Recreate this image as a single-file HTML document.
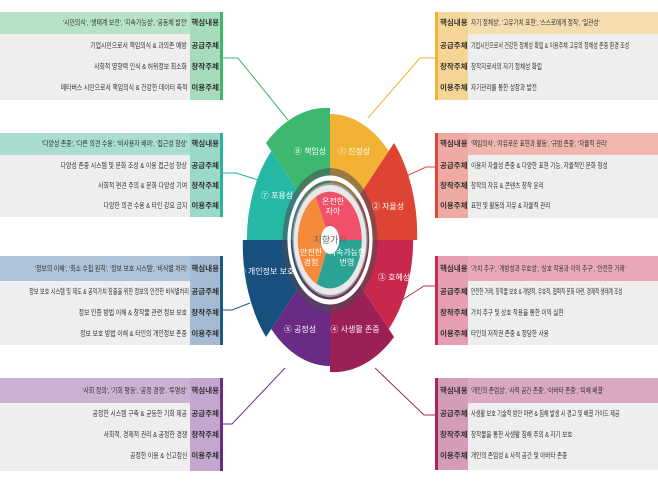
<!DOCTYPE html>
<html><head><meta charset="utf-8"><style>
body{margin:0;width:658px;height:482px;background:#fff;position:relative;overflow:hidden;font-family:"Liberation Sans","Noto Sans CJK KR",sans-serif}
.p{position:absolute;background:#eeeeee;font-size:7.5px;color:#333;overflow:hidden}
.p .h{position:absolute;left:0;right:0;top:0;height:22px}
.p .c{position:absolute;top:0;bottom:0;width:30px}
.p .b{position:absolute;top:0;bottom:0;width:3px}
.p span{position:absolute;white-space:nowrap;line-height:10px}
.L span{right:36px;transform:scaleX(0.78);transform-origin:right center}
.R span{left:36px;transform:scaleX(0.74);transform-origin:left center}
.L .k{right:4px;font-weight:bold;transform:none}
.R .k{left:5px;font-weight:bold;transform:none}
.L span.n{transform:scaleX(0.68)}
.L .c{right:3px}.L .b{right:0}
.R .c{left:3px}.R .b{left:0}
.t{position:absolute;color:#fff;font-size:8px;white-space:nowrap;transform:translate(-50%,-50%);text-align:center;line-height:10px}
</style></head><body>

<div class="p L" style="left:0;top:12px;width:223px;height:88px">
<div class="h" style="background:#b7e2c6"></div><div class="c" style="background:#a6dcbb"></div><div class="b" style="background:#3cb86a"></div>
<span style="top:6px">'시민의식', '생태계 보전', '지속가능성', '공동체 발전'</span><span class="k" style="top:6px">핵심내용</span>
<span style="top:29px">기업시민으로서 책임의식 &amp; 과의존 예방</span><span class="k" style="top:29px">공급주체</span>
<span style="top:50px">사회적 영향력 인식 &amp; 허위정보 최소화</span><span class="k" style="top:50px">창작주체</span>
<span style="top:71px">메타버스 시민으로서 책임의식 &amp; 건강한 데이터 축적</span><span class="k" style="top:71px">이용주체</span>
</div>
<div class="p L" style="left:0;top:133px;width:223px;height:84px">
<div class="h" style="background:#a8ddd0"></div><div class="c" style="background:#9cd8c8"></div><div class="b" style="background:#26b3a0"></div>
<span style="top:6px">'다양성 존중', '다른 의견 수용', '비사용자 배려', '접근성 향상'</span><span class="k" style="top:6px">핵심내용</span>
<span style="top:28px">다양성 존중 시스템 및 문화 조성 &amp; 이용 접근성 향상</span><span class="k" style="top:28px">공급주체</span>
<span style="top:48px">사회적 편견 주의 &amp; 문화 다양성 기여</span><span class="k" style="top:48px">창작주체</span>
<span style="top:68px">다양한 의견 수용 &amp; 타인 강요 금지</span><span class="k" style="top:68px">이용주체</span>
</div>
<div class="p L" style="left:0;top:256px;width:223px;height:89px">
<div class="h" style="background:#aec3d8;height:25px"></div><div class="c" style="background:#a5bbd3"></div><div class="b" style="background:#1d5a86"></div>
<span style="top:8px">'정보의 이해', '최소 수집 원칙', '정보 보호 시스템', '비식별 처리'</span><span class="k" style="top:8px">핵심내용</span>
<span class="n" style="top:31px;right:34px">정보 보호 시스템 및 제도 &amp; 공익가치 창출을 위한 정보의 안전한 비식별처리</span><span class="k" style="top:31px">공급주체</span>
<span style="top:52px">정보 인증 방법 이해 &amp; 창작물 관련 정보 보호</span><span class="k" style="top:52px">창작주체</span>
<span style="top:73px">정보 보호 방법 이해 &amp; 타인의 개인정보 존중</span><span class="k" style="top:73px">이용주체</span>
</div>
<div class="p L" style="left:0;top:378px;width:223px;height:93px">
<div class="h" style="background:#cbb2d4;height:25px"></div><div class="c" style="background:#c3a7cf"></div><div class="b" style="background:#6a2d86"></div>
<span style="top:8px">'사회 정의', '기회 평등', '공정 경쟁', '투명성'</span><span class="k" style="top:8px">핵심내용</span>
<span style="top:31px">공정한 시스템 구축 &amp; 균등한 기회 제공</span><span class="k" style="top:31px">공급주체</span>
<span style="top:52px">사회적, 경제적 권리 &amp; 공정한 경쟁</span><span class="k" style="top:52px">창작주체</span>
<span style="top:73px">공정한 이용 &amp; 신고정신</span><span class="k" style="top:73px">이용주체</span>
</div>

<div class="p R" style="left:435px;top:12px;width:223px;height:88px">
<div class="h" style="background:#f6ddb0"></div><div class="c" style="background:#f4d596"></div><div class="b" style="background:#f2b233"></div>
<span style="top:6px">자기 정체성', '고유가치 표현', '스스로에게 정직', '일관성'</span><span class="k" style="top:6px">핵심내용</span>
<span style="top:29px;transform:scaleX(0.66)">기업시민으로서 건강한 정체성 확립 &amp; 이용주체 고유의 정체성 존중 환경 조성</span><span class="k" style="top:29px">공급주체</span>
<span style="top:50px">창작자로서의 자기 정체성 확립</span><span class="k" style="top:50px">창작주체</span>
<span style="top:71px">자기관리를 통한 성장과 발전</span><span class="k" style="top:71px">이용주체</span>
</div>
<div class="p R" style="left:435px;top:133px;width:223px;height:85px">
<div class="h" style="background:#f1b6b0"></div><div class="c" style="background:#eeaaa3"></div><div class="b" style="background:#e0473b"></div>
<span style="top:6px">'책임의식', '자유로운 표현과 활동', '규범 존중', '자율적 관리'</span><span class="k" style="top:6px">핵심내용</span>
<span style="top:28px">이용자 자율성 존중 &amp; 다양한 표현 기능, 자율적인 문화 형성</span><span class="k" style="top:28px">공급주체</span>
<span style="top:48px">창작의 자유 &amp; 콘텐츠 창작 윤리</span><span class="k" style="top:48px">창작주체</span>
<span style="top:68px">표현 및 활동의 자유 &amp; 자율적 관리</span><span class="k" style="top:68px">이용주체</span>
</div>
<div class="p R" style="left:435px;top:256px;width:223px;height:89px">
<div class="h" style="background:#eaa9b8;height:25px"></div><div class="c" style="background:#e59fb0"></div><div class="b" style="background:#c62c52"></div>
<span style="top:8px">'가치 추구', '개방성과 우호성', '상호 작용과 이익 추구', '안전한 거래'</span><span class="k" style="top:8px">핵심내용</span>
<span style="top:31px;transform:scaleX(0.6)">안전한 거래, 창작물 보호 &amp; 개방적, 우호적, 협력적 문화 마련, 경제적 생태계 조성</span><span class="k" style="top:31px">공급주체</span>
<span style="top:52px">가치 추구 및 상호 작용을 통한 이익 실현</span><span class="k" style="top:52px">창작주체</span>
<span style="top:73px">타인의 저작권 존중 &amp; 정당한 사용</span><span class="k" style="top:73px">이용주체</span>
</div>
<div class="p R" style="left:435px;top:378px;width:223px;height:92px">
<div class="h" style="background:#dba8c2;height:25px"></div><div class="c" style="background:#d59cb9"></div><div class="b" style="background:#a3275e"></div>
<span style="top:8px">'개인의 존엄성', '사적 공간 존중', '아바타 존중', '피해 배결'</span><span class="k" style="top:8px">핵심내용</span>
<span style="top:31px;transform:scaleX(0.68)">사생활 보호 기술적 방안 마련 &amp; 침해 발생 시 경고 및 배결 가이드 제공</span><span class="k" style="top:31px">공급주체</span>
<span style="top:52px">창작물을 통한 사생활 침해 주의 &amp; 자기 보호</span><span class="k" style="top:52px">창작주체</span>
<span style="top:73px">개인의 존엄성 &amp; 사적 공간 및 아바타 존중</span><span class="k" style="top:73px">이용주체</span>
</div>

<svg width="658" height="482" style="position:absolute;left:0;top:0" xmlns="http://www.w3.org/2000/svg">
<g fill="none" stroke-width="1">
<polyline points="223,58 238,58 288,120" stroke="#3cb86a"/>
<polyline points="435,58 420,58 368,118" stroke="#f2b233"/>
<polyline points="223,173 236,173 258,180" stroke="#26b3a0"/>
<polyline points="435,167 426,167 402,178" stroke="#e0473b"/>
<polyline points="223,310 232,310 250,303" stroke="#1d5a86"/>
<polyline points="435,286 424,286 402,300" stroke="#c62c52"/>
<polyline points="223,424 232,424 285,368" stroke="#6a2d86"/>
<polyline points="435,415 424,415 375,368" stroke="#a3275e"/>
</g>
<g transform="translate(330,240) scale(0.66,1)">
<path d="M0,-126 A126,126 0 0 1 89,-89 L40,-40 A57,57 0 0 0 0,-57Z" fill="#f2b233"/>
<path d="M97,-97 A137,137 0 0 1 132,0 L57,0 A57,57 0 0 0 40,-40Z" fill="#dd4433"/>
<path d="M126,0 A126,126 0 0 1 89,89 L40,40 A57,57 0 0 0 57,0Z" fill="#c8284e"/>
<path d="M97,97 A137,137 0 0 1 0,132 L0,57 A57,57 0 0 0 40,40Z" fill="#9c1f55"/>
<path d="M0,126 A126,126 0 0 1 -89,89 L-40,40 A57,57 0 0 0 0,57Z" fill="#6a2b86"/>
<path d="M-97,97 A137,137 0 0 1 -132,0 L-57,0 A57,57 0 0 0 -40,40Z" fill="#17507f"/>
<path d="M-126,0 A126,126 0 0 1 -89,-89 L-40,-40 A57,57 0 0 0 -57,0Z" fill="#25b9a5"/>
<path d="M-97,-97 A137,137 0 0 1 0,-132 L0,-57 A57,57 0 0 0 -40,-40Z" fill="#3db870"/>
<circle r="72" fill="#4a4a52" opacity="0.55"/>
<circle r="62" fill="none" stroke="#fff" stroke-width="5"/>
<circle r="55" fill="#e8e8e8"/>
<path d="M0,0 L-22,-43 A48,48 0 0 1 48,0Z" fill="#f0506a"/>
<path d="M0,0 L48,0 A48,48 0 0 1 -20,44Z" fill="#2aa394"/>
<path d="M0,0 L-20,44 A48,48 0 0 1 -22,-43Z" fill="#f58a3a"/>
<circle r="14" fill="#fff"/>
</g>
</svg>
<div class="t" style="left:310px;top:152px">⑧ 책임성</div>
<div class="t" style="left:354px;top:152px">① 진정성</div>
<div class="t" style="left:388px;top:207px">② 자율성</div>
<div class="t" style="left:394px;top:278px">③ 호혜성</div>
<div class="t" style="left:355px;top:330px">④ 사생활 존중</div>
<div class="t" style="left:300px;top:330px">⑤ 공정성</div>
<div class="t" style="left:266px;top:272px">⑥ 개인정보 보호</div>
<div class="t" style="left:277px;top:196px">⑦ 포용성</div>
<div class="t" style="left:333px;top:207px">온전한<br>자아</div>
<div class="t" style="left:311px;top:258px">안전한<br>경험</div>
<div class="t" style="left:347px;top:258px">지속가능한<br>번영</div>
<div class="t" style="left:330px;top:240px;color:#666;font-size:9px">지향가치</div>
</body></html>
